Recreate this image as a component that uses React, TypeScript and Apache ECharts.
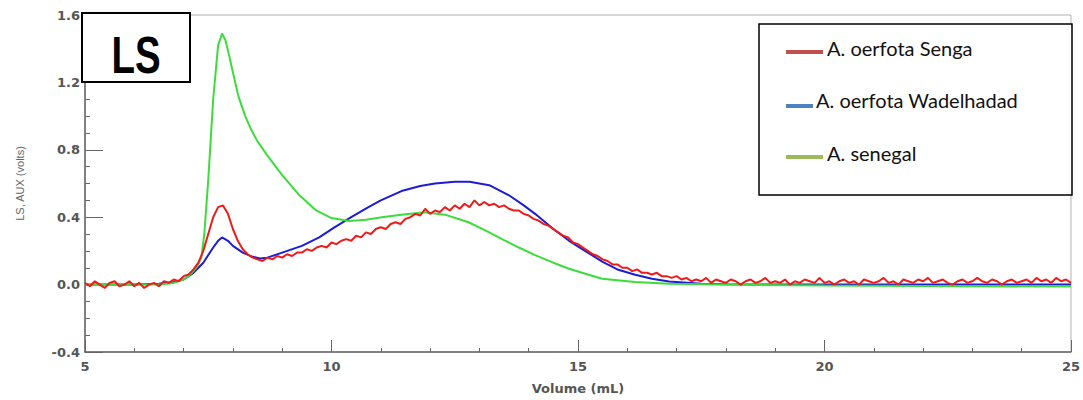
import React, { useEffect, useRef } from "react";
import * as echarts from "echarts";

const seriesNames = ["A. oerfota Senga", "A. oerfota Wadelhadad", "A. senegal"];
const lineColors = ["#ee1b1b", "#1c1cd4", "#3ddc3d"];
const legendColors = ["#c0504d", "#4f81bd", "#9bbb59"];

const xTicks = [5, 10, 15, 20, 25];
const yTicks = [-0.4, 0.0, 0.4, 0.8, 1.2, 1.6];

const sengaData: [number, number][] = [
  [5.0, 0.01], [5.1, -0.01], [5.2, 0.02], [5.3, 0.0], [5.4, -0.02], [5.5, 0.01], [5.6, 0.02], [5.7, -0.01], [5.8, 0.0], [5.9, 0.02],
  [6.0, -0.01], [6.1, 0.01], [6.2, -0.02], [6.3, 0.0], [6.4, 0.01], [6.5, -0.01], [6.6, 0.02], [6.7, 0.01], [6.8, 0.03], [6.9, 0.02],
  [7.0, 0.05], [7.1, 0.06], [7.2, 0.09], [7.3, 0.13], [7.4, 0.2], [7.5, 0.3], [7.6, 0.4], [7.7, 0.46], [7.8, 0.47], [7.9, 0.42],
  [8.0, 0.33], [8.1, 0.26], [8.2, 0.21], [8.3, 0.18], [8.4, 0.16], [8.5, 0.15], [8.6, 0.14], [8.7, 0.16], [8.8, 0.15], [8.9, 0.17],
  [9.0, 0.16], [9.1, 0.18], [9.2, 0.17], [9.3, 0.19], [9.4, 0.19], [9.5, 0.21], [9.6, 0.2], [9.7, 0.22], [9.8, 0.23], [9.9, 0.22],
  [10.0, 0.25], [10.1, 0.24], [10.2, 0.26], [10.3, 0.27], [10.4, 0.26], [10.5, 0.29], [10.6, 0.28], [10.7, 0.31], [10.8, 0.3], [10.9, 0.33],
  [11.0, 0.34], [11.1, 0.33], [11.2, 0.36], [11.3, 0.37], [11.4, 0.36], [11.5, 0.39], [11.6, 0.4], [11.7, 0.42], [11.8, 0.41], [11.9, 0.45],
  [12.0, 0.42], [12.1, 0.44], [12.2, 0.43], [12.3, 0.46], [12.4, 0.44], [12.5, 0.47], [12.6, 0.45], [12.7, 0.48], [12.8, 0.46], [12.9, 0.5],
  [13.0, 0.47], [13.1, 0.49], [13.2, 0.47], [13.3, 0.48], [13.4, 0.46], [13.5, 0.47], [13.6, 0.45], [13.7, 0.44], [13.8, 0.44], [13.9, 0.42],
  [14.0, 0.41], [14.1, 0.39], [14.2, 0.38], [14.3, 0.36], [14.4, 0.35], [14.5, 0.33], [14.6, 0.31], [14.7, 0.29], [14.8, 0.28], [14.9, 0.25],
  [15.0, 0.24], [15.1, 0.22], [15.2, 0.2], [15.3, 0.18], [15.4, 0.17], [15.5, 0.15], [15.6, 0.14], [15.7, 0.12], [15.8, 0.12], [15.9, 0.1],
  [16.0, 0.1], [16.1, 0.08], [16.2, 0.09], [16.3, 0.07], [16.4, 0.07], [16.5, 0.06], [16.6, 0.07], [16.7, 0.05], [16.8, 0.05], [16.9, 0.04],
  [17.0, 0.05], [17.1, 0.03], [17.2, 0.04], [17.3, 0.02], [17.4, 0.03], [17.5, 0.02], [17.6, 0.04], [17.7, 0.01], [17.8, 0.03], [17.9, 0.02],
  [18.0, 0.01], [18.1, 0.03], [18.2, 0.02], [18.3, 0.0], [18.4, 0.02], [18.5, 0.03], [18.6, 0.01], [18.7, 0.02], [18.8, 0.04], [18.9, 0.01],
  [19.0, 0.02], [19.1, 0.01], [19.2, 0.03], [19.3, 0.0], [19.4, 0.02], [19.5, 0.01], [19.6, 0.03], [19.7, 0.02], [19.8, 0.01], [19.9, 0.04],
  [20.0, 0.01], [20.1, 0.02], [20.2, 0.0], [20.3, 0.02], [20.4, 0.03], [20.5, 0.01], [20.6, 0.02], [20.7, 0.0], [20.8, 0.03], [20.9, 0.02],
  [21.0, 0.01], [21.1, 0.02], [21.2, 0.04], [21.3, 0.01], [21.4, 0.02], [21.5, 0.0], [21.6, 0.03], [21.7, 0.02], [21.8, 0.01], [21.9, 0.03],
  [22.0, 0.02], [22.1, 0.04], [22.2, 0.01], [22.3, 0.02], [22.4, 0.03], [22.5, 0.01], [22.6, 0.0], [22.7, 0.02], [22.8, 0.03], [22.9, 0.01],
  [23.0, 0.02], [23.1, 0.04], [23.2, 0.02], [23.3, 0.01], [23.4, 0.03], [23.5, 0.02], [23.6, 0.0], [23.7, 0.02], [23.8, 0.03], [23.9, 0.01],
  [24.0, 0.02], [24.1, 0.03], [24.2, 0.01], [24.3, 0.04], [24.4, 0.02], [24.5, 0.03], [24.6, 0.01], [24.7, 0.04], [24.8, 0.02], [24.9, 0.03],
  [25.0, 0.01],
];

const wadelhadadData: [number, number][] = [
  [5, 0.0], [5.5, 0.0], [6, 0.0], [6.5, 0.005], [6.8, 0.015], [7.0, 0.03], [7.2, 0.07], [7.4, 0.13], [7.6, 0.22], [7.7, 0.26],
  [7.78, 0.28], [7.9, 0.26], [8.0, 0.23], [8.2, 0.19], [8.4, 0.165], [8.55, 0.155], [8.7, 0.16], [9.0, 0.19], [9.4, 0.23], [9.75, 0.28],
  [10.06, 0.34], [10.4, 0.4], [10.75, 0.46], [11.0, 0.5], [11.42, 0.555], [11.8, 0.585], [12.1, 0.6], [12.5, 0.61], [12.8, 0.61], [13.2, 0.59],
  [13.6, 0.53], [13.9, 0.47], [14.13, 0.42], [14.5, 0.33], [14.82, 0.26], [15.2, 0.19], [15.5, 0.135], [15.8, 0.09], [16.16, 0.058], [16.5, 0.035],
  [16.85, 0.018], [17.5, 0.005], [18, 0.002], [20, 0.0], [22, 0.0], [25, 0.0],
];

const senegalData: [number, number][] = [
  [5, 0.0], [6, 0.0], [6.5, 0.0], [6.8, 0.01], [7.0, 0.03], [7.1, 0.05], [7.2, 0.08], [7.3, 0.12], [7.36, 0.16], [7.42, 0.3],
  [7.5, 0.62], [7.6, 1.1], [7.7, 1.42], [7.78, 1.49], [7.85, 1.45], [7.9, 1.39], [8.0, 1.26], [8.11, 1.12], [8.25, 1.0], [8.37, 0.92],
  [8.5, 0.85], [8.69, 0.77], [9.0, 0.65], [9.35, 0.53], [9.69, 0.44], [10.0, 0.395], [10.36, 0.378], [10.7, 0.385], [11.02, 0.4], [11.42, 0.415],
  [11.89, 0.43], [12.3, 0.415], [12.78, 0.37], [13.1, 0.325], [13.46, 0.27], [13.8, 0.22], [14.13, 0.175], [14.5, 0.13], [14.82, 0.094], [15.2, 0.06],
  [15.49, 0.035], [16.16, 0.015], [16.85, 0.005], [18, 0.0], [20, -0.005], [22, -0.008], [25, -0.012],
];

const seriesData = [sengaData, wadelhadadData, senegalData];

export default function App() {
  const ref = useRef<HTMLDivElement>(null);
  useEffect(() => {
    if (!ref.current) return;
    const chart = echarts.init(ref.current, null, { renderer: "svg" });
    const legendItems = [
      { lx1: 786, lx2: 823, ly: 52, tx: 827, ty: 48 },
      { lx1: 786, lx2: 813, ly: 106, tx: 816, ty: 100 },
      { lx1: 786, lx2: 823, ly: 157, tx: 827, ty: 153 },
    ];
    const graphics: any[] = [
      {
        type: "rect",
        shape: { x: 82, y: 13, width: 108, height: 69 },
        style: { fill: "#fff", stroke: "#000", lineWidth: 2 },
        z: 100,
      },
      {
        type: "text",
        x: 136,
        y: 55,
        scaleX: 0.74,
        style: {
          text: "LS",
          font: "bold 52px 'Liberation Sans', Arial, sans-serif",
          fill: "#000",
          align: "center",
          verticalAlign: "middle",
        },
        z: 101,
      },
      {
        type: "rect",
        shape: { x: 759, y: 24, width: 313, height: 171 },
        style: { fill: "#fff", stroke: "#000", lineWidth: 1.5 },
        z: 100,
      },
    ];
    legendItems.forEach((it, i) => {
      graphics.push({
        type: "line",
        shape: { x1: it.lx1, y1: it.ly, x2: it.lx2, y2: it.ly },
        style: { stroke: legendColors[i], lineWidth: 4 },
        z: 101,
      });
      graphics.push({
        type: "text",
        x: it.tx,
        y: it.ty,
        style: {
          text: seriesNames[i],
          font: "20px Lato, 'Liberation Sans', sans-serif",
          fill: "#111",
          align: "left",
          verticalAlign: "middle",
        },
        z: 101,
      });
    });

    const order = [1, 2, 0];
    chart.setOption({
      animation: false,
      backgroundColor: "#fff",
      grid: {
        left: 85,
        right: 5,
        top: 15,
        bottom: 44,
        show: true,
        borderColor: "#b0b0b0",
        borderWidth: 1,
        backgroundColor: "transparent",
      },
      xAxis: {
        type: "value",
        min: xTicks[0],
        max: xTicks[xTicks.length - 1],
        interval: 5,
        name: "Volume (mL)",
        nameLocation: "middle",
        nameGap: 30,
        nameTextStyle: { fontFamily: "DejaVu Sans", fontWeight: "bold", fontSize: 13, color: "#555" },
        axisLine: { show: true, onZero: false, lineStyle: { color: "#666", width: 1.5 } },
        axisTick: { show: true, inside: true, length: 12, lineStyle: { color: "#666", width: 1 } },
        minorTick: { show: true, splitNumber: 5, length: 4, lineStyle: { color: "#666", width: 1 } },
        splitLine: { show: false },
        axisLabel: {
          fontFamily: "DejaVu Sans",
          fontWeight: "bold",
          fontSize: 13,
          color: "#555",
          margin: 8,
          showMinLabel: true,
          showMaxLabel: true,
        },
      },
      yAxis: {
        type: "value",
        min: yTicks[0],
        max: yTicks[yTicks.length - 1],
        interval: 0.4,
        name: "LS, AUX (volts)",
        nameLocation: "middle",
        nameGap: 60,
        nameTextStyle: { fontFamily: "Liberation Sans", fontSize: 11, color: "#666" },
        axisLine: { show: true, onZero: false, lineStyle: { color: "#666", width: 1.5 } },
        axisTick: { show: true, inside: true, length: 18, lineStyle: { color: "#666", width: 1 } },
        minorTick: { show: true, splitNumber: 4, length: 5, lineStyle: { color: "#666", width: 1 } },
        splitLine: { show: false },
        axisLabel: {
          fontFamily: "DejaVu Sans",
          fontWeight: "bold",
          fontSize: 13,
          color: "#555",
          margin: 5,
          formatter: (v: number) => v.toFixed(1),
        },
      },
      series: order.map((i) => ({
        name: seriesNames[i],
        type: "line",
        data: seriesData[i],
        showSymbol: false,
        symbol: "none",
        smooth: false,
        lineStyle: { color: lineColors[i], width: 2 },
        z: 2,
      })),
      graphic: graphics,
    });
    return () => chart.dispose();
  }, []);
  return <div ref={ref} style={{ width: 1083, height: 400, position: "absolute", left: 0, top: 0 }} />;
}
